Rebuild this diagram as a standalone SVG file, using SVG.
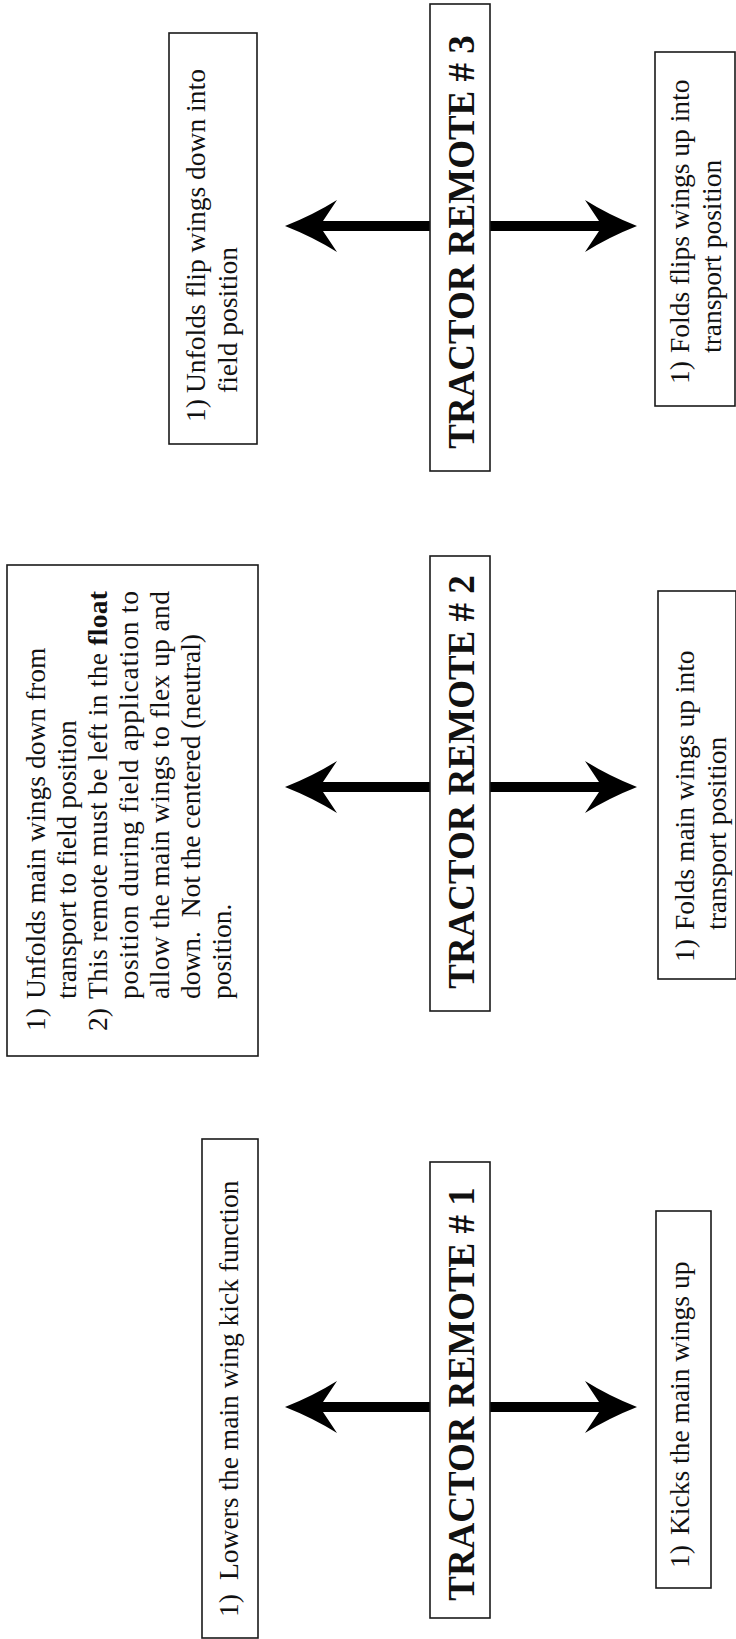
<svg xmlns="http://www.w3.org/2000/svg" width="736" height="1639" viewBox="0 0 736 1639">
<style>
.box{fill:#fff;stroke:#1a1a1a;stroke-width:1.6}
.t{font-family:"Liberation Serif","Times New Roman",serif;font-size:27.5px;fill:#111}
.r{font-family:"Liberation Serif","Times New Roman",serif;font-size:37px;font-weight:bold;fill:#111;text-anchor:middle}
.b{font-weight:bold}
.shaft{stroke:#000;stroke-width:10;fill:none}
</style>
<defs>
<marker id="ah" markerUnits="userSpaceOnUse" orient="auto" overflow="visible" refX="0" refY="0" markerWidth="60" markerHeight="60">
<path d="M20,0 Q-8,-11 -32,-26 L-18,-5 L-18,5 L-32,26 Q-8,11 20,0 Z" fill="#000"/>
</marker>
</defs>
<rect width="736" height="1639" fill="#fff"/>

<g id="connectors">
<line class="shaft" x1="430" y1="226" x2="305" y2="226" marker-end="url(#ah)"/>
<line class="shaft" x1="490" y1="226" x2="617" y2="226" marker-end="url(#ah)"/>
<line class="shaft" x1="430" y1="787" x2="305" y2="787" marker-end="url(#ah)"/>
<line class="shaft" x1="490" y1="787" x2="617" y2="787" marker-end="url(#ah)"/>
<line class="shaft" x1="430" y1="1407" x2="305" y2="1407" marker-end="url(#ah)"/>
<line class="shaft" x1="490" y1="1407" x2="617" y2="1407" marker-end="url(#ah)"/>
</g>

<g id="remote3">
<rect class="box" x="430" y="4" width="60" height="467"/>
<text class="r" transform="rotate(-90)" x="-242" y="474">TRACTOR REMOTE # 3</text>
</g>
<g id="remote2">
<rect class="box" x="430" y="556" width="60" height="455"/>
<text class="r" transform="rotate(-90)" x="-782" y="474">TRACTOR REMOTE # 2</text>
</g>
<g id="remote1">
<rect class="box" x="430" y="1162" width="60" height="456"/>
<text class="r" transform="rotate(-90)" x="-1394" y="474">TRACTOR REMOTE # 1</text>
</g>

<g id="unfold-flip">
<rect class="box" x="169" y="33" width="88" height="411"/>
<g transform="rotate(-90)" class="t">
<text x="-422" y="205">1)</text>
<text x="-393" y="205">Unfolds flip wings down into</text>
<text x="-393" y="237">field position</text>
</g>
</g>

<g id="fold-flip">
<rect class="box" x="655" y="52" width="80" height="354"/>
<g transform="rotate(-90)" class="t">
<text x="-384" y="689">1)</text>
<text x="-353" y="689">Folds flips wings up into</text>
<text x="-353" y="721">transport position</text>
</g>
</g>

<g id="unfold-main">
<rect class="box" x="7" y="565" width="251" height="491"/>
<g transform="rotate(-90)" class="t">
<text x="-1031" y="45">1)</text>
<text x="-999" y="45">Unfolds main wings down from</text>
<text x="-999" y="76">transport to field position</text>
<text x="-1031" y="107">2)</text>
<text x="-999" y="107" textLength="408" lengthAdjust="spacing">This remote must be left in the <tspan class="b">float</tspan></text>
<text x="-999" y="138" textLength="408" lengthAdjust="spacing">position during field application to</text>
<text x="-999" y="169" textLength="408" lengthAdjust="spacing">allow the main wings to flex up and</text>
<text x="-999" y="200" xml:space="preserve">down.  Not the centered (neutral)</text>
<text x="-999" y="231">position.</text>
</g>
</g>

<g id="fold-main">
<rect class="box" x="658" y="591" width="78" height="388"/>
<g transform="rotate(-90)" class="t">
<text x="-962" y="694">1)</text>
<text x="-930" y="694">Folds main wings up into</text>
<text x="-930" y="726">transport position</text>
</g>
</g>

<g id="lower-kick">
<rect class="box" x="202" y="1139" width="56" height="499"/>
<g transform="rotate(-90)" class="t">
<text x="-1617" y="238">1)</text>
<text x="-1580" y="238">Lowers the main wing kick function</text>
</g>
</g>

<g id="kick-up">
<rect class="box" x="656" y="1211" width="55" height="377"/>
<g transform="rotate(-90)" class="t">
<text x="-1568" y="689">1)</text>
<text x="-1535" y="689">Kicks the main wings up</text>
</g>
</g>
</svg>
